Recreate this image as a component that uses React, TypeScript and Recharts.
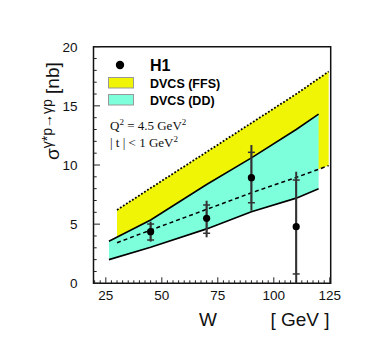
import React from 'react';
import { ComposedChart, Area, Line, Scatter, XAxis, YAxis, ErrorBar, ReferenceArea } from 'recharts';

// ---- axis setup ----
const X_DOMAIN: [number, number] = [19.5, 125.4];
const Y_DOMAIN: [number, number] = [0, 20];
const X_MAJOR_TICKS = [25, 50, 75, 100, 125];
const Y_MAJOR_TICKS = [0, 5, 10, 15, 20];
const X_MINOR_STEP = 2.5;
const Y_MINOR_STEP = 1;

// ---- DVCS (DD) band (solid edges) ----
const W_DD = [26.4, 45, 70, 90, 110, 120];
const DD_LOW = [2.0, 3.05, 4.6, 6.05, 7.2, 8.0];
const DD_HIGH = [3.55, 5.35, 8.35, 10.6, 13.0, 14.3];

// ---- DVCS (FFS) band (dashed lower, dotted upper) ----
const W_FFS = [30, 45, 70, 90, 110, 124.5];
const FFS_LOW = [3.43, 4.5, 6.25, 7.65, 8.95, 9.95];
const FFS_HIGH = [6.2, 8.05, 11.1, 13.55, 16.0, 17.9];

// ---- H1 data ----
const W_H1 = [45, 70, 90, 110];
const H1 = [4.36, 5.49, 8.93, 4.79];
const H1_STAT_LOW = [3.66, 4.23, 6.81, 0.79];
const H1_STAT_HIGH = [5.01, 6.62, 11.07, 8.73];
const H1_TOT_LOW = [3.52, 3.89, 6.14, 0.0];
const H1_TOT_HIGH = [5.21, 6.98, 11.69, 9.43];

const YELLOW = '#f0f505';
const CYAN = '#7dffdc';

function range(from: number, to: number, step: number): number[] {
  const out: number[] = [];
  for (let v = from; v <= to + 1e-9; v += step) out.push(Math.round(v * 100) / 100);
  return out;
}
const X_TICKS = range(20, 125, X_MINOR_STEP);
const Y_TICKS = range(0, 20, Y_MINOR_STEP);

const ddData = W_DD.map((w, i) => ({ w, dd: [DD_LOW[i], DD_HIGH[i]] }));
const ffsData = W_FFS.map((w, i) => ({ w, ffs: [FFS_LOW[i], FFS_HIGH[i]], lo: FFS_LOW[i], hi: FFS_HIGH[i] }));
const h1Data = W_H1.map((w, i) => ({
  w,
  v: H1[i],
  stat: [H1[i] - H1_STAT_LOW[i], H1_STAT_HIGH[i] - H1[i]],
  tot: [H1[i] - H1_TOT_LOW[i], H1_TOT_HIGH[i] - H1[i]],
}));

const SANS = '"Liberation Sans", Arial, Helvetica, sans-serif';
const SERIF = '"Liberation Serif", "Times New Roman", serif';

const XTick = (props: any) => {
  const { x, y, payload } = props;
  const v = payload.value;
  const major = X_MAJOR_TICKS.includes(v);
  return (
    <g>
      <line x1={x} y1={y} x2={x} y2={y - (major ? 6 : 3)} stroke="#222" strokeWidth={1} />
      {major && (
        <text x={x} y={y + 17} textAnchor="middle" fontFamily={SANS} fontSize={13.5} fill="#111">
          {v}
        </text>
      )}
    </g>
  );
};

const YTick = (props: any) => {
  const { x, y, payload } = props;
  const v = payload.value;
  const major = Y_MAJOR_TICKS.includes(v);
  return (
    <g>
      <line x1={x} y1={y} x2={x + (major ? 6.5 : 3.2)} y2={y} stroke="#222" strokeWidth={1} />
      {major && (
        <text x={x - 16} y={y + 5} textAnchor="end" fontFamily={SANS} fontSize={13.5} fill="#111">
          {v}
        </text>
      )}
    </g>
  );
};

const Dot = (p: any) => <circle cx={p.cx} cy={p.cy} r={3.6} fill="#000" />;

export default function App() {
  const W = 362;
  const H = 338;
  return (
    <div style={{ position: 'relative', width: W, height: H }}>
      <ComposedChart
        width={W}
        height={H}
        margin={{ top: 38.7, right: 39.3, left: 35.5, bottom: 22.7 }}
      >
        <XAxis
          type="number"
          dataKey="w"
          domain={X_DOMAIN}
          allowDataOverflow
          ticks={X_TICKS}
          interval={0}
          tickLine={false}
          axisLine={false}
          tickSize={0}
          tickMargin={0}
          tick={<XTick />}
          height={40}
        />
        <YAxis
          type="number"
          domain={Y_DOMAIN}
          allowDataOverflow
          ticks={Y_TICKS}
          interval={0}
          tickLine={false}
          axisLine={false}
          tickSize={0}
          tickMargin={0}
          tick={<YTick />}
          width={50}
        />
        <Area
          data={ffsData}
          dataKey="ffs"
          type="linear"
          fill={YELLOW}
          fillOpacity={1}
          stroke="none"
          isAnimationActive={false}
          dot={false}
          activeDot={false}
        />
        <Area
          data={ddData}
          dataKey="dd"
          type="linear"
          fill={CYAN}
          fillOpacity={1}
          stroke="#000"
          strokeWidth={1.6}
          isAnimationActive={false}
          dot={false}
          activeDot={false}
        />
        <Line
          data={ffsData}
          dataKey="lo"
          type="linear"
          stroke="#000"
          strokeWidth={1.5}
          strokeDasharray="4 3"
          dot={false}
          activeDot={false}
          isAnimationActive={false}
        />
        <Line
          data={ffsData}
          dataKey="hi"
          type="linear"
          stroke="#000"
          strokeWidth={1.8}
          strokeDasharray="1.8 1.8"
          dot={false}
          activeDot={false}
          isAnimationActive={false}
        />
        <Scatter data={h1Data} dataKey="v" shape={<Dot />} isAnimationActive={false}>
          <ErrorBar dataKey="tot" direction="y" width={0} stroke="#333" strokeWidth={2} isAnimationActive={false} />
          <ErrorBar dataKey="stat" direction="y" width={3.5} stroke="#333" strokeWidth={1.5} isAnimationActive={false} />
        </Scatter>
        <ReferenceArea
          x1={X_DOMAIN[0]}
          x2={X_DOMAIN[1]}
          y1={Y_DOMAIN[0]}
          y2={Y_DOMAIN[1]}
          fill="none"
          fillOpacity={0}
          stroke="#111"
          strokeWidth={1.5}
          ifOverflow="visible"
        />
      </ComposedChart>
      <svg
        width={W}
        height={H}
        style={{ position: 'absolute', left: 0, top: 0, pointerEvents: 'none' }}
      >
        {/* legend */}
        <circle cx={112} cy={57} r={4.2} fill="#000" />
        <text x={142} y={62.5} fontFamily={SANS} fontWeight="bold" fontSize={16} fill="#000">H1</text>
        <rect x={100.5} y={69.5} width={25} height={10.5} fill={YELLOW} stroke="#999" strokeWidth={1} />
        <text x={142} y={80.3} fontFamily={SANS} fontWeight="bold" fontSize={12.5} fill="#000">DVCS (FFS)</text>
        <rect x={100.5} y={86.5} width={25} height={10.5} fill={CYAN} stroke="#999" strokeWidth={1} />
        <text x={142} y={97} fontFamily={SANS} fontWeight="bold" fontSize={12.5} fill="#000">DVCS (DD)</text>
        <text x={102} y={122} fontFamily={SERIF} fontSize={13} fill="#111">
          Q<tspan dy={-5} fontSize={9}>2</tspan>
          <tspan dy={5}> = 4.5 GeV</tspan>
          <tspan dy={-5} fontSize={9}>2</tspan>
        </text>
        <text x={102} y={138.5} fontFamily={SERIF} fontSize={13} fill="#111">
          | t | &lt; 1 GeV<tspan dy={-5} fontSize={9}>2</tspan>
        </text>
        {/* axis titles */}
        <text x={200} y={318} textAnchor="middle" fontFamily={SANS} fontSize={19} fill="#111">W</text>
        <text x={292} y={318} textAnchor="middle" fontFamily={SANS} fontSize={19} fill="#111">[ GeV ]</text>
        <text
          transform="translate(51,152) rotate(-90)"
          fontFamily={SANS}
          fontSize={19}
          fill="#111"
        >
          σ<tspan dy={-7} fontSize={14}>γ*p→γp</tspan>
          <tspan dy={7}> [nb]</tspan>
        </text>
      </svg>
    </div>
  );
}
